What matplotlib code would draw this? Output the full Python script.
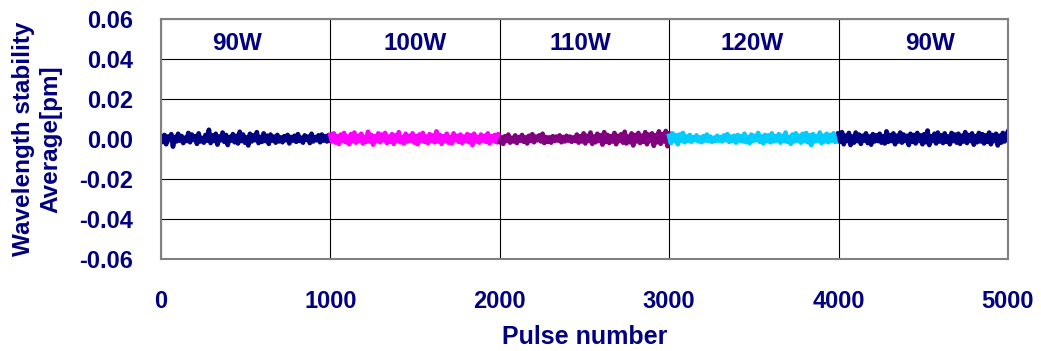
import matplotlib
matplotlib.use("Agg")
import matplotlib.pyplot as plt
import numpy as np

plt.rcParams['font.family'] = ['Liberation Sans', 'DejaVu Sans']
plt.rcParams['font.weight'] = 'bold'

NAVY = '#000080'

segment_labels = ['90W', '100W', '110W', '120W', '90W']
segment_colors = ['#000080', '#FF00FF', '#800080', '#00CCFF', '#000080']
segment_starts = [0, 1000, 2000, 3000, 4000]
label_x = [450, 1500, 2475, 3490, 4540]

# deviations in units of 0.001 pm
seg_90a = [0.8, -1.5, 2.0, -2.6, 1.2, -0.6, 2.4, -3.8, 1.0, -1.2,
           2.6, -0.8, 1.5, -2.0, 0.6, -1.0, 3.0, -1.6, 2.2, -0.4,
           1.4, -2.4, 2.8, -1.2, 0.5, -1.8, 2.0, -0.8, 4.6, -2.0,
           1.8, -1.0, 2.6, -2.8, 1.2, -0.6, 3.2, -1.4, 2.0, -3.0,
           1.0, -0.8, 2.4, -1.6, 1.6, -2.2, 3.6, -1.0, 2.2, -1.8,
           0.8, -3.2, 2.6, -1.2, 1.8, -0.6, 3.4, -2.0, 1.0, -1.4,
           2.8, -1.0, 1.6, -2.4, 2.2, -0.8, 1.2, -1.8, 2.0, -1.2,
           0.8, -1.6, 1.4, -0.6, 2.0, -2.2, 1.0, -0.8, 1.6, -1.4,
           2.4, -1.0, 0.6, -1.8, 1.8, -0.4, 1.2, -2.0, 2.6, -1.2,
           1.0, -0.6, 1.8, -1.6, 2.2, -0.8, 1.4, -1.2, 2.0, -0.6]
seg_100 = [2.0, -1.2, 2.8, -1.8, 1.4, -2.4, 2.2, -0.8, 3.0, -1.6,
           1.2, -2.6, 2.4, -1.0, 3.2, -1.8, 1.6, -0.8, 2.6, -2.2,
           1.0, -1.4, 3.6, -1.2, 2.0, -2.8, 1.4, -1.0, 2.8, -1.6,
           2.2, -0.6, 3.0, -2.0, 1.2, -1.4, 2.4, -2.4, 1.8, -1.0,
           3.4, -1.6, 1.0, -2.2, 2.6, -1.2, 1.6, -0.8, 2.8, -1.8,
           1.4, -2.6, 2.2, -1.0, 3.0, -1.4, 1.2, -2.0, 2.4, -0.8,
           1.8, -1.6, 3.8, -1.2, 2.0, -2.4, 1.4, -1.0, 2.6, -1.8,
           1.0, -2.2, 2.8, -0.6, 1.6, -1.4, 2.2, -2.0, 1.2, -1.0,
           2.4, -1.6, 1.8, -3.0, 2.6, -1.2, 1.0, -1.8, 2.2, -0.8,
           1.6, -1.4, 2.8, -2.2, 1.4, -1.0, 2.0, -1.6, 2.4, -0.6]
seg_110 = [-1.6, 0.8, -2.4, 1.4, -1.0, 2.2, -1.8, 0.6, -1.2, 1.8,
           -2.0, 1.0, -0.8, 2.0, -1.4, 0.8, -2.2, 1.6, -1.0, 2.4,
           -1.6, 1.2, -0.6, 1.8, -1.2, 2.6, -2.0, 1.0, -1.4, 0.8,
           -1.8, 1.4, -1.0, 1.2, -0.8, 1.8, -1.6, 1.0, -1.2, 1.6,
           -0.8, 1.2, -1.4, 0.8, -1.0, 2.2, -1.8, 1.4, -1.2, 2.8,
           -2.2, 1.6, -1.0, 3.2, -2.4, 1.2, -1.6, 2.6, -1.0, 1.8,
           -2.8, 3.4, -1.4, 2.0, -2.0, 1.4, -1.2, 3.0, -2.6, 1.6,
           -1.0, 2.4, -1.8, 3.6, -2.2, 1.2, -1.6, 2.8, -3.2, 2.0,
           -1.2, 3.0, -2.0, 1.6, -1.4, 3.4, -2.6, 2.2, -1.0, 2.8,
           -3.4, 1.8, -1.6, 3.8, -2.4, 2.4, -1.2, 4.0, -3.6, 2.6]
seg_120 = [1.6, -2.0, 2.8, -1.0, 1.8, -2.6, 2.2, -0.8, 3.0, -1.6,
           1.2, -1.0, 2.0, -1.4, 1.0, -0.6, 1.8, -1.2, 0.8, -1.6,
           1.4, -0.8, 2.2, -1.0, 1.2, -1.4, 0.6, -1.0, 1.6, -0.8,
           1.0, -1.2, 1.8, -0.6, 2.4, -1.4, 1.2, -1.0, 1.6, -1.8,
           2.0, -0.8, 1.4, -1.2, 2.6, -1.6, 1.0, -2.0, 2.2, -1.0,
           1.6, -0.6, 3.0, -1.4, 1.2, -2.2, 2.0, -1.0, 1.8, -1.6,
           2.8, -1.2, 1.4, -0.8, 2.4, -1.8, 1.6, -1.0, 3.2, -1.4,
           1.0, -2.4, 2.2, -1.2, 2.8, -0.8, 1.6, -1.8, 2.6, -1.0,
           3.0, -1.6, 1.8, -3.0, 2.4, -1.2, 1.4, -1.0, 3.2, -2.0,
           1.6, -1.2, 2.6, -1.6, 2.0, -0.8, 2.8, -1.4, 1.2, -1.0]
seg_90b = [2.8, -1.4, 3.4, -2.6, 1.6, -1.0, 3.0, -3.0, 1.2, -1.8,
           3.2, -1.0, 2.2, -2.4, 1.6, -0.8, 2.8, -2.0, 1.2, -2.8,
           2.4, -1.2, 1.8, -1.0, 2.6, -1.8, 1.4, -2.2, 3.8, -1.4,
           2.0, -1.0, 2.8, -2.6, 1.6, -1.2, 3.2, -1.8, 2.2, -1.0,
           1.6, -3.0, 2.6, -1.4, 2.0, -2.2, 3.0, -1.0, 1.8, -2.6,
           2.4, -1.6, 4.2, -3.0, 1.4, -1.0, 2.6, -2.2, 3.2, -1.2,
           1.8, -2.0, 2.8, -1.4, 1.2, -2.6, 3.0, -1.0, 2.2, -1.8,
           2.6, -2.4, 1.6, -1.2, 3.4, -2.0, 2.0, -1.0, 2.8, -2.8,
           1.4, -1.6, 3.0, -1.2, 2.4, -2.2, 1.8, -1.4, 3.2, -2.6,
           2.0, -1.0, 2.6, -3.2, 1.6, -1.8, 3.0, -1.2, 2.2, 3.8]
segments = [seg_90a, seg_100, seg_110, seg_120, seg_90b]

fig = plt.figure(figsize=(10.41, 3.51), dpi=100)
ax = fig.add_axes([161 / 1041, 1 - 259 / 351, (1008 - 161) / 1041, (259 - 19) / 351])

for start, vals, col in zip(segment_starts, segments, segment_colors):
    n = len(vals)
    x = start + np.arange(n) * (1000.0 / (n - 1))
    ax.plot(x, np.array(vals) * 0.001, color=col, lw=3.4, solid_joinstyle='round')

for lx, lab in zip(label_x, segment_labels):
    ax.text(lx, 0.048, lab, color=NAVY, fontsize=17.5, fontweight='bold',
            ha='center', va='center')

ax.set_xlim(0, 5000)
ax.set_ylim(-0.06, 0.06)
ax.set_xticks([0, 1000, 2000, 3000, 4000, 5000])
ax.set_yticks([-0.06, -0.04, -0.02, 0.0, 0.02, 0.04, 0.06])
ax.set_yticklabels(['-0.06', '-0.04', '-0.02', '0.00', '0.02', '0.04', '0.06'])
ax.tick_params(axis='both', length=0, labelsize=17, labelcolor=NAVY)
ax.tick_params(axis='x', pad=22)
ax.tick_params(axis='y', pad=20)
for t in ax.get_xticklabels() + ax.get_yticklabels():
    t.set_fontweight('bold')

ax.grid(True, color='black', lw=0.8)
ax.set_axisbelow(True)
for s in ax.spines.values():
    s.set_color('#808080')
    s.set_linewidth(1.5)

ax.set_xlabel('Pulse number', color=NAVY, fontsize=18, fontweight='bold', labelpad=9)
fig.text(37 / 1041, 1 - 139 / 351, 'Wavelength stability\nAverage[pm]', color=NAVY,
         fontsize=17.5, fontweight='bold', rotation=90, ha='center', va='center',
         multialignment='center', linespacing=1.25)

fig.savefig('out.png', dpi=100)
